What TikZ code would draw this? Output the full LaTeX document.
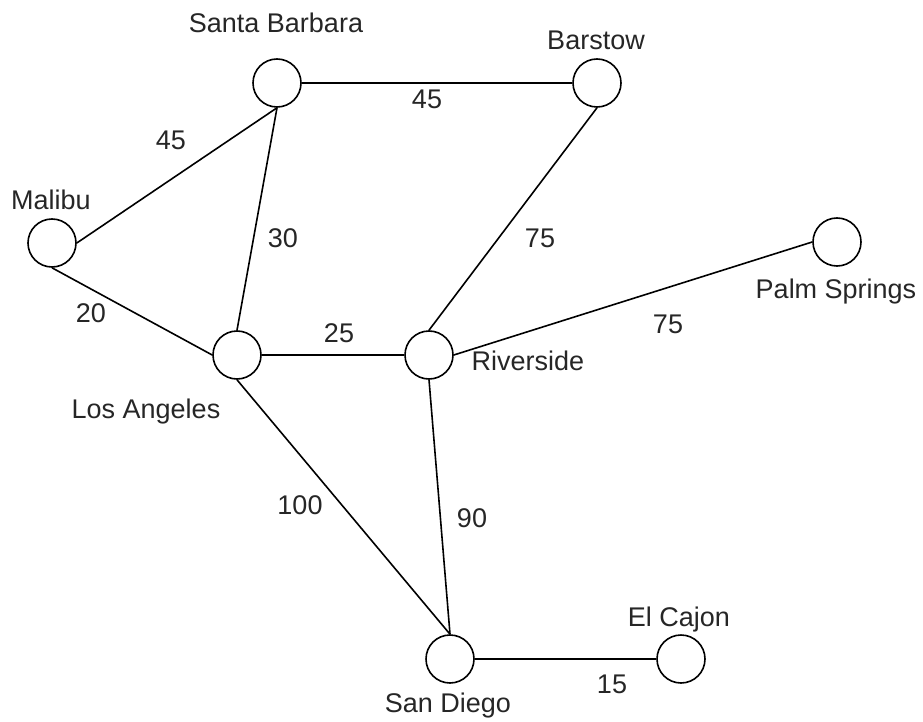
\documentclass[tikz,border=0pt]{standalone}
\usepackage{fontspec}
\setmainfont{Liberation Sans}
\begin{document}
\begin{tikzpicture}[x=1pt,y=-1pt,
  city/.style={circle,draw=black,line width=1.6pt,minimum size=48pt,inner sep=0pt,fill=white},
  road/.style={draw=black,line width=1.6pt},
  lbl/.style={anchor=base,inner sep=0pt,text=black!85,font=\fontsize{27}{30}\selectfont}]
\useasboundingbox (0,0) rectangle (923,722);
% cities
\node[city] (sb) at (277,83) {};
\node[city] (ba) at (597,83) {};
\node[city] (ma) at (52,243) {};
\node[city] (ps) at (837,242) {};
\node[city] (la) at (237,355) {};
\node[city] (ri) at (429,355) {};
\node[city] (sd) at (450,659) {};
\node[city] (ec) at (681,659) {};
% roads
\draw[road] (sb.east) -- (ba.west);
\draw[road] (ma.east) -- (sb.south);
\draw[road] (ma.south) -- (la.west);
\draw[road] (sb.south) -- (la.north);
\draw[road] (la.east) -- (ri.west);
\draw[road] (ri.north) -- (ba.south);
\draw[road] (ri.east) -- (ps.west);
\draw[road] (la.south) -- (sd.north);
\draw[road] (ri.south) -- (sd.north);
\draw[road] (sd.east) -- (ec.west);
% city names
\node[lbl] (tsb) at (276,33) {Santa Barbara};
\node[lbl] (tba) at (596,50) {Barstow};
\node[lbl] (tma) at (51,210) {Malibu};
\node[lbl] (tps) at (836,298) {Palm Springs};
\node[lbl] (tla) at (146,418) {Los Angeles};
\node[lbl] (tri) at (528,370) {Riverside};
\node[lbl] (tsd) at (448,712) {San Diego};
\node[lbl] (tec) at (679,626) {El Cajon};
% distances
\node[lbl] (d1) at (427,109) {45};
\node[lbl] (d2) at (171,150) {45};
\node[lbl] (d3) at (283,247) {30};
\node[lbl] (d4) at (540,247) {75};
\node[lbl] (d5) at (91,322) {20};
\node[lbl] (d6) at (339,342) {25};
\node[lbl] (d7) at (668,333) {75};
\node[lbl] (d8) at (300,514) {100};
\node[lbl] (d9) at (472,527) {90};
\node[lbl] (d10) at (612,693) {15};
\end{tikzpicture}
\end{document}
